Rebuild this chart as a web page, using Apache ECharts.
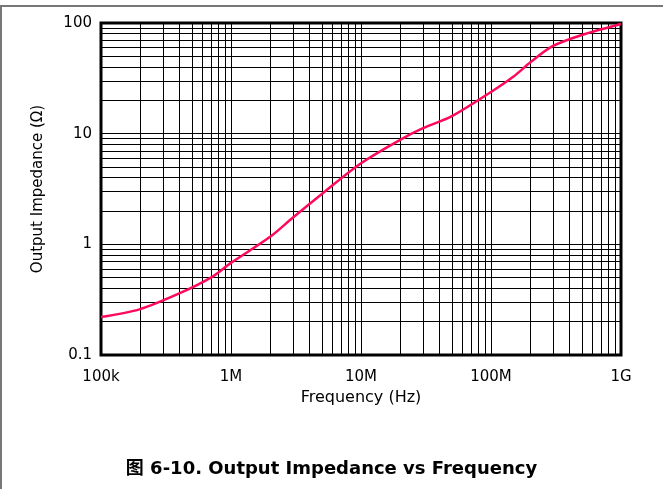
<!DOCTYPE html>
<html>
<head>
<meta charset="utf-8">
<script src="https://cdn.jsdelivr.net/npm/echarts@6/dist/echarts.min.js"></script>
<style>
  html, body { margin: 0; padding: 0; background: #fff; }
  #chart { width: 663px; height: 489px; }
</style>
</head>
<body>
<div id="chart"></div>
<script>
// Output impedance measured against frequency
const freqHz = [1e5, 2e5, 4e5, 7e5, 1e6, 2e6, 3e6, 5e6, 1e7, 2e7, 3e7, 5e7, 1e8, 1.5e8, 2e8, 3e8, 5e8, 1e9];
const impedanceOhm = [0.22, 0.26, 0.36, 0.5, 0.68, 1.17, 1.75, 2.85, 5.4, 8.8, 11.2, 14.4, 23.8, 33, 44, 62, 78, 98];

// Decade tick labels
const xTickValues = [1e5, 1e6, 1e7, 1e8, 1e9];
const xTickLabels = ['100k', '1M', '10M', '100M', '1G'];
const yTickValues = [0.1, 1, 10, 100];
const yTickLabels = ['0.1', '1', '10', '100'];

// Minor grid lines at 2..9 times each decade
const minorSteps = [2, 3, 4, 5, 6, 7, 8, 9];
function minorLines(decades) {
  const out = [];
  decades.slice(0, -1).forEach(d => minorSteps.forEach(m => out.push(d * m)));
  return out;
}
const xMinor = minorLines(xTickValues);
const yMinor = minorLines(yTickValues);

const FONT = "'DejaVu Sans', 'Liberation Sans', Arial, sans-serif";

function labelFor(values, labels) {
  return v => {
    const i = values.findIndex(t => Math.abs(Math.log10(t) - Math.log10(v)) < 1e-6);
    return i >= 0 ? labels[i] : '';
  };
}

const gridLineStyle = { color: '#000', width: 1, type: 'solid' };

const chart = echarts.init(document.getElementById('chart'), null, { renderer: 'canvas' });
chart.setOption({
  animation: false,
  backgroundColor: '#fff',
  title: {
    text: '图 6-10. Output Impedance vs Frequency',
    left: 'center',
    top: 455,
    textStyle: { fontFamily: "'DejaVu Sans', 'Noto Sans CJK SC', sans-serif", fontWeight: 'bold', fontSize: 18, color: '#000' }
  },
  graphic: [
    { type: 'rect', shape: { x: 0, y: 5, width: 663, height: 2 }, style: { fill: '#777' }, silent: true },
    { type: 'rect', shape: { x: 0, y: 5, width: 2, height: 484 }, style: { fill: '#777' }, silent: true }
  ],
  grid: {
    left: 101, right: 42, top: 23, bottom: 134,
    show: true, borderColor: '#000', borderWidth: 3, backgroundColor: 'transparent'
  },
  xAxis: {
    type: 'log', logBase: 10, min: 1e5, max: 1e9,
    name: 'Frequency (Hz)', nameLocation: 'middle', nameGap: 32,
    nameTextStyle: { fontFamily: FONT, fontSize: 16, color: '#000' },
    axisLine: { show: false },
    axisTick: { show: false },
    axisLabel: { fontFamily: FONT, fontSize: 15, color: '#000', margin: 15, formatter: labelFor(xTickValues, xTickLabels) },
    splitLine: { show: true, lineStyle: gridLineStyle }
  },
  yAxis: {
    type: 'log', logBase: 10, min: 0.1, max: 100,
    name: 'Output Impedance (Ω)', nameLocation: 'middle', nameGap: 55,
    nameTextStyle: { fontFamily: FONT, fontSize: 15, color: '#000' },
    axisLine: { show: false },
    axisTick: { show: false },
    axisLabel: { fontFamily: FONT, fontSize: 15, color: '#000', margin: 9, formatter: labelFor(yTickValues, yTickLabels) },
    splitLine: { show: true, lineStyle: gridLineStyle }
  },
  series: [
    {
      type: 'line',
      data: [],
      silent: true,
      markLine: {
        silent: true, symbol: 'none', animation: false,
        label: { show: false },
        lineStyle: { color: '#000', width: 1, type: 'solid' },
        data: xMinor.map(v => ({ xAxis: v })).concat(yMinor.map(v => ({ yAxis: v })))
      }
    },
    {
      type: 'line',
      data: freqHz.map((f, i) => [f, impedanceOhm[i]]),
      smooth: 0.3,
      showSymbol: false,
      lineStyle: { color: '#ff0a5a', width: 2.5 },
      z: 5
    }
  ]
});
</script>
</body>
</html>
